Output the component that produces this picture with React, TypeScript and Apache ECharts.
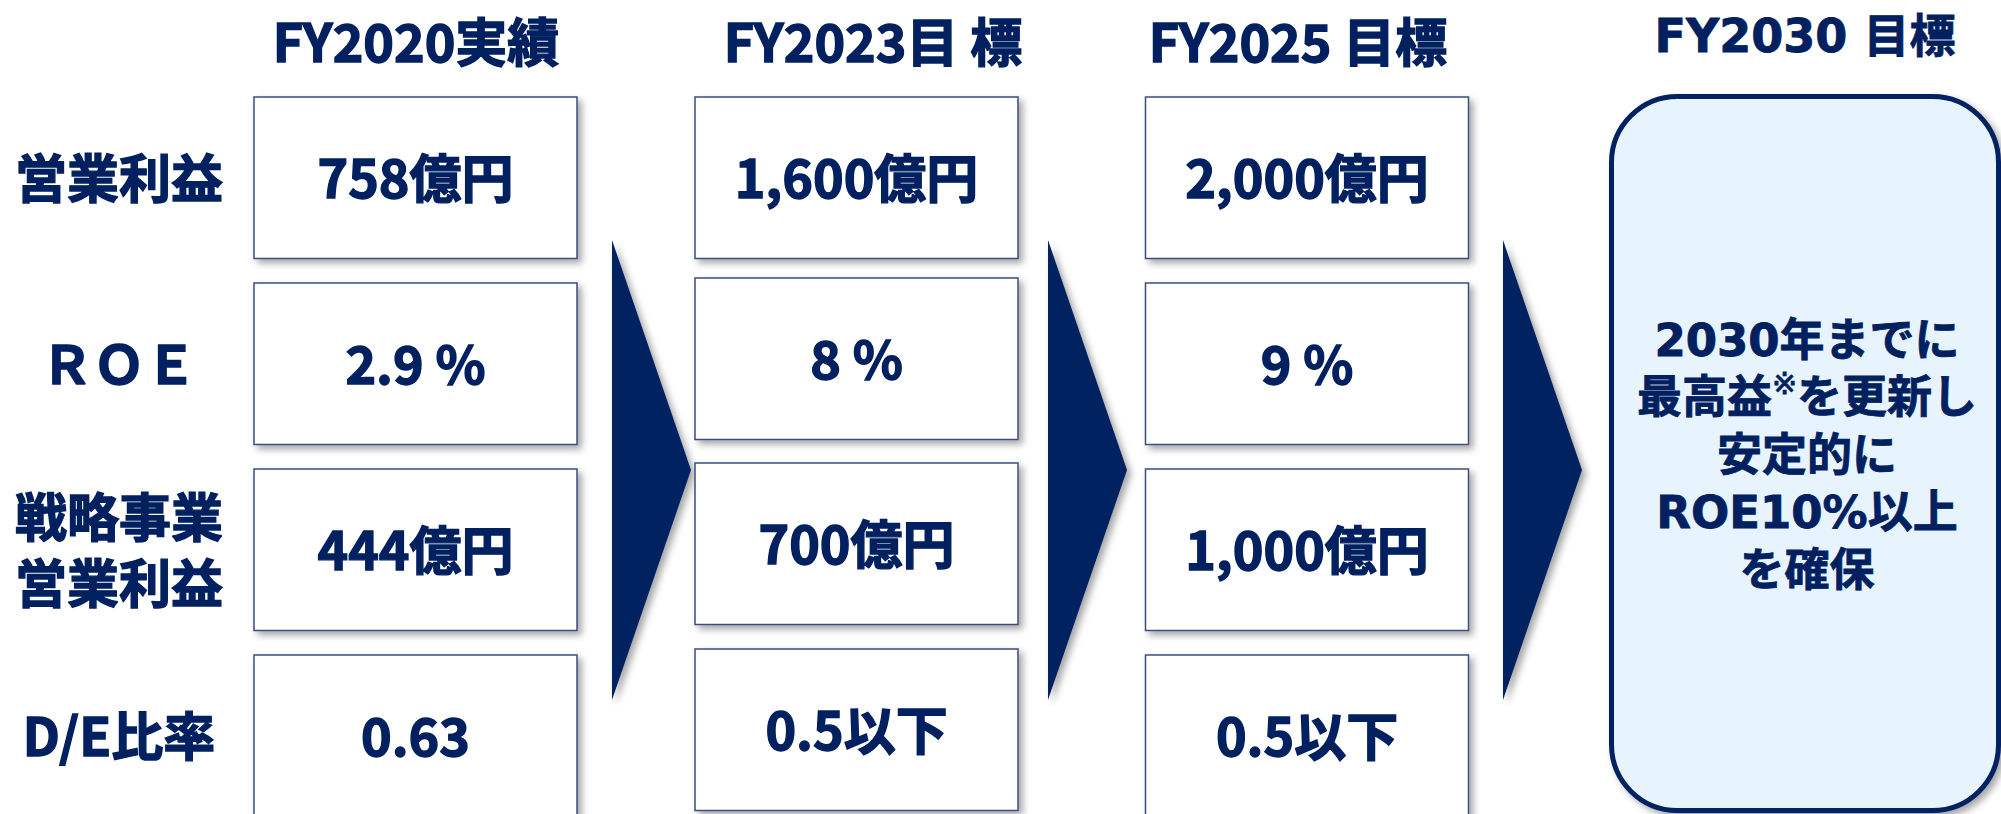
import React, { useEffect, useRef } from 'react';
import * as echarts from 'echarts';

// ---- content ----
const periods = ['FY2020実績', 'FY2023目 標', 'FY2025 目標'];
const targetPeriod = 'FY2030 目標';
const metrics = ['営業利益', 'ＲＯＥ', '戦略事業\n営業利益', 'D/E比率'];
const fy2020Values = ['758億円', '2.9 %', '444億円', '0.63'];
const fy2023Values = ['1,600億円', '8 %', '700億円', '0.5以下'];
const fy2025Values = ['2,000億円', '9 %', '1,000億円', '0.5以下'];
const fy2030Goal = ['2030年までに', '最高益{sup|※}を更新し', '安定的に', 'ROE10%以上', 'を確保'];

// ---- styling / layout ----
const NAVY = '#002060';
const BORDER = '#3b4d80';
const JP = '"Noto Sans CJK JP", "Noto Sans CJK SC", sans-serif';
const WIDE = '"DejaVu Sans", "Noto Sans CJK JP", sans-serif';
const SHADOW = { shadowBlur: 7, shadowOffsetX: 4, shadowOffsetY: 4, shadowColor: 'rgba(0,0,0,0.35)' };

const colLeft = [254, 695, 1145.5];
const colWidth = 323;
const boxHeight = 161.5;
const rowTops = [
  [97, 283, 469, 655],
  [97, 278, 463, 649],
  [97, 283, 469, 655],
];
const headerCenters = [416, 873, 1298];
const headerY = 39;
const labelX = 119;
const labelLineGap = 66;
const textShift = -2;
const arrowLeft = [612, 1048, 1503];
const arrowDepth = 79;
const arrowTop = 240;
const arrowBottom = 700;
const goal = { x: 1611.5, y: 96.5, w: 387, h: 714, r: 66 };
const goalLineHeight = 57.5;

function txt(x: number, y: number, text: string, size: number, family: string, extra: any = {}) {
  return {
    type: 'text',
    x,
    y,
    z: 10,
    style: {
      text,
      fill: NAVY,
      stroke: NAVY,
      lineWidth: 1.4,
      fontSize: size,
      fontWeight: 'bold',
      fontFamily: family,
      align: 'center',
      textAlign: 'center',
      verticalAlign: 'middle',
      textVerticalAlign: 'middle',
      ...extra,
    },
  };
}

export default function App() {
  const ref = useRef<HTMLDivElement>(null);
  useEffect(() => {
    if (!ref.current) return;
    const chart = echarts.init(ref.current, undefined, { renderer: 'svg' });
    const columns = [fy2020Values, fy2023Values, fy2025Values];
    const elements: any[] = [];

    // headers
    periods.forEach((p, i) => elements.push(txt(headerCenters[i], headerY, p, 52, JP)));
    elements.push(txt(goal.x + goal.w / 2, 36, targetPeriod, 46, WIDE, { lineWidth: 0.8 }));

    // row labels (multi-line labels drawn line by line)
    metrics.forEach((m, r) => {
      const cy = rowTops[0][r] + boxHeight / 2 + textShift;
      const lines = m.split('\n');
      lines.forEach((ln, k) => {
        const y = cy + (k - (lines.length - 1) / 2) * labelLineGap;
        elements.push(txt(labelX, y, ln, 52, JP));
      });
    });

    // value boxes
    columns.forEach((vals, c) => {
      vals.forEach((v, r) => {
        const top = rowTops[c][r];
        elements.push({
          type: 'rect',
          z: 5,
          shape: { x: colLeft[c], y: top, width: colWidth, height: boxHeight },
          style: { fill: '#ffffff', stroke: BORDER, lineWidth: 1.5, ...SHADOW },
        });
        elements.push(txt(colLeft[c] + colWidth / 2, top + boxHeight / 2 + textShift, v, 52, JP));
      });
    });

    // arrows
    arrowLeft.forEach((ax) => {
      elements.push({
        type: 'polygon',
        z: 4,
        shape: {
          points: [
            [ax, arrowTop],
            [ax + arrowDepth, (arrowTop + arrowBottom) / 2],
            [ax, arrowBottom],
          ],
        },
        style: { fill: NAVY, ...SHADOW },
      });
    });

    // goal box
    elements.push({
      type: 'rect',
      z: 5,
      shape: { x: goal.x, y: goal.y, width: goal.w, height: goal.h, r: goal.r },
      style: { fill: '#e7f4fd', stroke: NAVY, lineWidth: 5, ...SHADOW },
    });
    const gcx = goal.x + goal.w / 2 + 2;
    const gcy = 455;
    fy2030Goal.forEach((line, i) => {
      const y = gcy + (i - (fy2030Goal.length - 1) / 2) * goalLineHeight;
      elements.push(
        txt(gcx, y, line, 45, WIDE, {
          lineWidth: 0.8,
          lineHeight: goalLineHeight,
          rich: {
            sup: {
              fontSize: 30,
              fontWeight: 'normal',
              fontFamily: WIDE,
              fill: NAVY,
              lineHeight: 40,
              verticalAlign: 'top',
            },
          },
        })
      );
    });

    chart.setOption({
      animation: false,
      backgroundColor: '#ffffff',
      graphic: { elements },
    });
    return () => chart.dispose();
  }, []);

  return (
    <div
      ref={ref}
      style={{ position: 'fixed', left: 0, top: 0, width: 2001, height: 814, background: '#fff' }}
    />
  );
}
